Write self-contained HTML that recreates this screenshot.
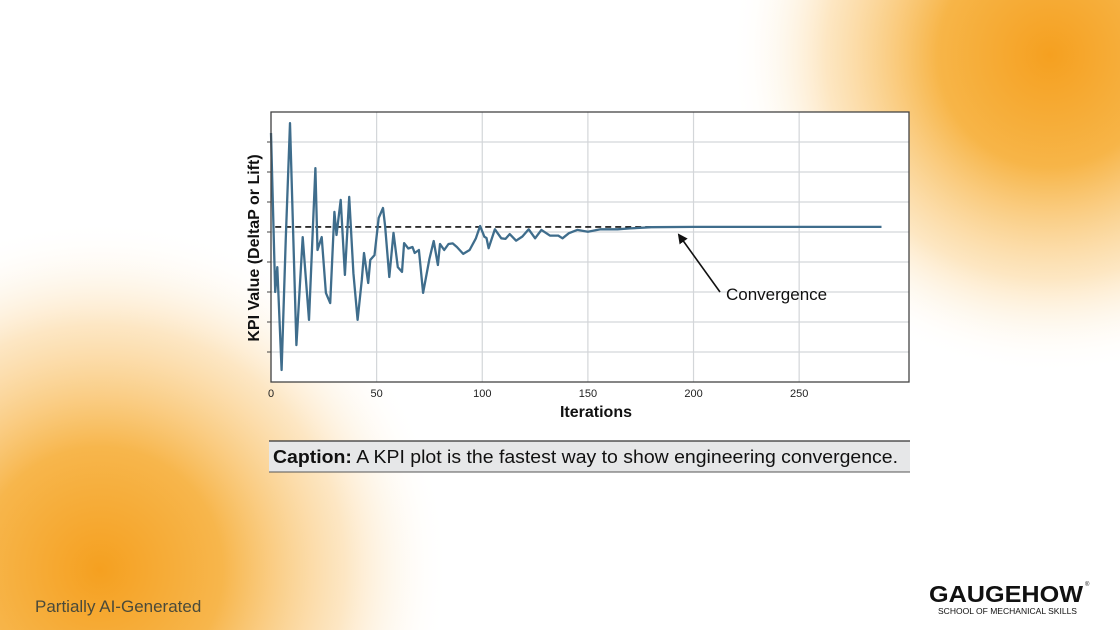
<!DOCTYPE html>
<html><head><meta charset="utf-8"><style>
html,body{margin:0;padding:0;width:1120px;height:630px;overflow:hidden;background:#fff}
svg{display:block}
text{font-family:"Liberation Sans",sans-serif}
</style></head><body>
<svg width="1120" height="630" viewBox="0 0 1120 630">
<defs>
<radialGradient id="gTR" cx="1050" cy="55" r="320" gradientUnits="userSpaceOnUse">
<stop offset="0" stop-color="#f5a020"/><stop offset="0.35" stop-color="#f7b548"/><stop offset="0.7" stop-color="#fcdca8" stop-opacity="0.7"/><stop offset="1" stop-color="#fff" stop-opacity="0"/></radialGradient>
<radialGradient id="gBL" cx="100" cy="570" r="350" gradientUnits="userSpaceOnUse">
<stop offset="0" stop-color="#f5a020"/><stop offset="0.35" stop-color="#f7b64c"/><stop offset="0.7" stop-color="#fcdcaa" stop-opacity="0.7"/><stop offset="1" stop-color="#fff" stop-opacity="0"/></radialGradient>
<marker id="ah" markerWidth="10" markerHeight="10" refX="8" refY="5" orient="auto" markerUnits="userSpaceOnUse"><path d="M0,0 L10,5 L0,10 z" fill="#111"/></marker>
</defs>
<rect width="1120" height="630" fill="#fff"/>
<rect width="1120" height="630" fill="url(#gTR)"/>
<rect width="1120" height="630" fill="url(#gBL)"/>
<rect x="271" y="112" width="638" height="270" fill="#fff"/>
<g id="grid"></g>
<g id="ticks"></g>
<line id="target" stroke="#111" stroke-width="1.6" stroke-dasharray="6,4"/>
<polyline id="series" fill="none" stroke="#3f6d8c" stroke-width="2.3" stroke-linejoin="round"/>
<rect x="271" y="112" width="638" height="270" fill="none" stroke="#444" stroke-width="1.3"/>
<line x1="720" y1="292" x2="679" y2="235" stroke="#111" stroke-width="1.6" marker-end="url(#ah)"/>
<text x="726" y="300" font-size="17" fill="#111">Convergence</text>
<text x="596" y="417" font-size="16" font-weight="bold" text-anchor="middle" fill="#111">Iterations</text>
<text transform="translate(259,248) rotate(-90)" font-size="16" font-weight="bold" text-anchor="middle" fill="#111">KPI Value (DeltaP or Lift)</text>
<rect x="269" y="441" width="641" height="31" fill="#e6e7e8"/>
<line x1="269" y1="441" x2="910" y2="441" stroke="#333" stroke-width="1.2"/>
<line x1="269" y1="472" x2="910" y2="472" stroke="#555" stroke-width="1"/>
<text x="273" y="463" font-size="18" fill="#111" textLength="625" lengthAdjust="spacingAndGlyphs"><tspan font-weight="bold">Caption:</tspan> A KPI plot is the fastest way to show engineering convergence.</text>
<text x="35" y="612" font-size="17" fill="#4a4a3a">Partially AI-Generated</text>
<text x="929" y="602" font-size="23" font-weight="bold" fill="#111" textLength="154" lengthAdjust="spacingAndGlyphs">GAUGEHOW</text>
<text x="1085" y="586" font-size="6" fill="#111">®</text>
<text x="938" y="614" font-size="8" fill="#111" textLength="139" lengthAdjust="spacingAndGlyphs">SCHOOL OF MECHANICAL SKILLS</text>
</svg>
<script>
const iterations=[0,2,3,5,7,9,12,15,18,21,22,24,26,28,30,31,33,35,37,39,41,43,44,46,47,49,51,53,54,56,58,60,62,63,65,67,68,70,72,75,77,79,80,82,84,86,88,91,94,97,99,101,102,103,106,109,111,113,116,119,122,125,128,132,136,138,141,145,150,156,164,170,180,200,250,289];
const kpiValues=[8.3,3.0,3.83,0.4,4.8,8.63,1.23,4.83,2.07,7.13,4.4,4.83,2.97,2.63,5.67,4.9,6.07,3.57,6.17,3.63,2.07,3.4,4.3,3.3,4.07,4.23,5.47,5.8,5.2,3.5,4.97,3.83,3.67,4.63,4.45,4.5,4.3,4.4,2.97,4.1,4.7,3.9,4.6,4.4,4.6,4.62,4.5,4.27,4.4,4.79,5.2,4.84,4.8,4.46,5.09,4.79,4.77,4.93,4.71,4.85,5.09,4.79,5.07,4.88,4.88,4.79,4.96,5.07,5.01,5.09,5.09,5.12,5.16,5.17,5.17,5.17];
const targetValue=5.17;
const targetRange=[2,191];
const xTicks=[0,50,100,150,200,250];
const yTicks=[1,2,3,4,5,6,7,8];
const X0=271,X1=909,Y0=382,Y1=112,XMAX=302,YMAX=9;
const xs=v=>X0+(X1-X0)*v/XMAX;
const ys=v=>Y0-(Y0-Y1)*v/YMAX;
const NS="http://www.w3.org/2000/svg";
const grid=document.getElementById('grid'),ticks=document.getElementById('ticks');
yTicks.forEach(t=>{
 const l=document.createElementNS(NS,'line');
 l.setAttribute('x1',X0);l.setAttribute('x2',X1);l.setAttribute('y1',ys(t));l.setAttribute('y2',ys(t));
 l.setAttribute('stroke','#d3d6d9');l.setAttribute('stroke-width','1.2');
 
 
 grid.appendChild(l);
 const k=document.createElementNS(NS,'line');
 k.setAttribute('x1',X0-4);k.setAttribute('x2',X0);k.setAttribute('y1',ys(t));k.setAttribute('y2',ys(t));
 k.setAttribute('stroke','#444');
 
 
 ticks.appendChild(k);
});
xTicks.forEach(t=>{
 const l=document.createElementNS(NS,'line');
 l.setAttribute('x1',xs(t));l.setAttribute('x2',xs(t));l.setAttribute('y1',Y1);l.setAttribute('y2',Y0);
 l.setAttribute('stroke','#d3d6d9');l.setAttribute('stroke-width','1.2');
 
 
 grid.appendChild(l);
 const tx=document.createElementNS(NS,'text');
 tx.setAttribute('x',xs(t));tx.setAttribute('y',Y0+15);tx.setAttribute('font-size','11');
 tx.setAttribute('text-anchor','middle');tx.setAttribute('fill','#222');
 tx.textContent=t;
 
 
 ticks.appendChild(tx);
});
const tl=document.getElementById('target');
tl.setAttribute('x1',xs(targetRange[0]));tl.setAttribute('x2',xs(targetRange[1]));
tl.setAttribute('y1',ys(targetValue));tl.setAttribute('y2',ys(targetValue));
document.getElementById('series').setAttribute('points',iterations.map((it,i)=>xs(it).toFixed(1)+','+ys(kpiValues[i]).toFixed(1)).join(' '));
</script>
</body></html>
